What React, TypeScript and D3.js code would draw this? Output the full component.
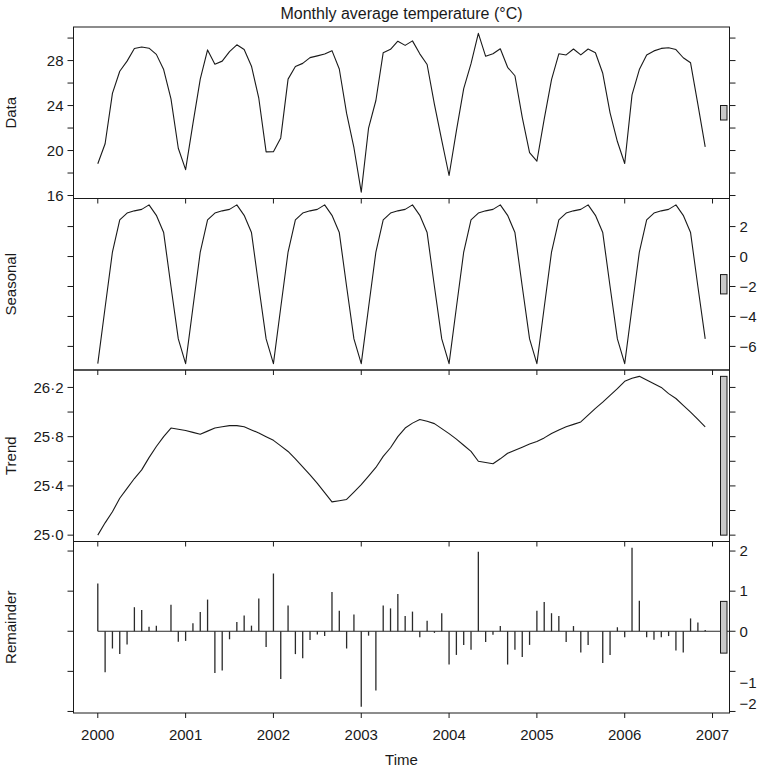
import React from "react";
import * as d3 from "d3";

// monthly series, Jan 2000 .. Dec 2006
const START_YEAR = 2000;

const dataValues = [
  18.82, 20.6, 25.08, 27.05, 27.95, 29.08, 29.21, 29.1, 28.55, 27.2, 24.6, 20.2,
  18.3, 22.4, 26.35, 28.95, 27.68, 27.95, 28.8, 29.4, 28.98, 27.5, 24.65, 19.88,
  19.9, 21.12, 26.35, 27.47, 27.75, 28.26, 28.42, 28.58, 28.88, 27.25, 23.3, 20.25,
  16.3, 22.0, 24.45, 28.7, 29.0, 29.72, 29.35, 29.75, 28.6, 27.65, 24.1, 20.9,
  17.78, 21.75, 25.5, 27.72, 30.42, 28.38, 28.6, 29.05, 27.4, 26.65, 22.95, 19.82,
  19.05, 22.8, 26.3, 28.6, 28.5, 29.03, 28.5, 29.03, 28.7, 26.87, 23.35, 20.8,
  18.85, 24.95, 27.2, 28.5, 28.86, 29.08, 29.14, 28.98, 28.25, 27.8, 24.1, 20.32,
];

// periodic seasonal component, one value per calendar month
const seasonalByMonth = [-7.15, -3.4, 0.3, 2.45, 2.9, 3.05, 3.15, 3.45, 2.75, 1.6, -2.0, -5.5];

const trendValues = [
  25.0, 25.1, 25.19, 25.3, 25.38, 25.46, 25.53, 25.63, 25.72, 25.8, 25.87, 25.86,
  25.85, 25.835, 25.82, 25.845, 25.87, 25.88, 25.89, 25.89, 25.88, 25.855, 25.83, 25.8,
  25.77, 25.725, 25.68, 25.62, 25.555, 25.49, 25.42, 25.345, 25.27, 25.28, 25.29, 25.35,
  25.41, 25.48, 25.55, 25.64, 25.71, 25.8, 25.87, 25.91, 25.94, 25.925, 25.906, 25.865,
  25.825, 25.78, 25.73, 25.68, 25.6, 25.59, 25.58, 25.62, 25.665, 25.69, 25.715, 25.74,
  25.76, 25.79, 25.825, 25.855, 25.88, 25.9, 25.92, 25.975, 26.03, 26.08, 26.135, 26.19,
  26.25, 26.275, 26.29, 26.26, 26.23, 26.2, 26.15, 26.11, 26.055, 26.0, 25.94, 25.88,
];

const remainderValues = [
  1.19, -1.02, -0.43, -0.57, -0.33, 0.6, 0.53, 0.11, 0.14, 0.0, 0.66, -0.26,
  -0.24, 0.2, 0.48, 0.79, -1.04, -0.98, -0.2, 0.23, 0.39, 0.14, 0.82, -0.39,
  1.44, -1.19, 0.64, -0.57, -0.67, -0.22, -0.08, -0.12, 0.98, 0.51, -0.43, 0.42,
  -1.88, -0.11, -1.48, 0.64, 0.57, 0.93, 0.38, 0.49, -0.15, 0.26, -0.04, 0.45,
  -0.83, -0.59, -0.34, -0.46, 1.98, -0.27, -0.09, 0.13, -0.83, -0.46, -0.64, -0.34,
  0.51, 0.73, 0.45, 0.38, -0.27, 0.13, -0.53, -0.34, 0.0, -0.79, -0.59, 0.1,
  -0.15, 2.08, 0.76, -0.15, -0.21, -0.15, -0.12, -0.48, -0.53, 0.32, 0.22, 0.03,
];

const yearTicks = [2000, 2001, 2002, 2003, 2004, 2005, 2006, 2007];
const dataTicks = [16, 18, 20, 22, 24, 26, 28, 30];
const dataLabels = [16, 20, 24, 28];
const seasonalTicks = [-6, -4, -2, 0, 2];
const trendTicks = [25.0, 25.2, 25.4, 25.6, 25.8, 26.0, 26.2];
const trendLabels = [25.0, 25.4, 25.8, 26.2];
const remainderTicks = [-2, -1, 0, 1, 2];

const W = 760;
const H = 769;
const LEFT = 73.5;
const RIGHT = 729.5;
const TOP = 27;
const BOTTOM = 713;
const FONT = "'Liberation Sans', Arial, Helvetica, sans-serif";
const INK = "#1a1a1a";

const pad = (ext: [number, number]): [number, number] => {
  const e = (ext[1] - ext[0]) * 0.04;
  return [ext[0] - e, ext[1] + e];
};

const minus = (d: number) => (d < 0 ? "\u2212" + Math.abs(d) : String(d));
const dotFmt = (d: number) => d.toFixed(1).replace(".", "\u00b7");

const App = () => {
  const months = dataValues.map((_, i) => START_YEAR + i / 12);
  const seasonalValues = months.map((_, i) => seasonalByMonth[i % 12]);

  const x = d3
    .scaleLinear()
    .domain(pad(d3.extent(months) as [number, number]))
    .range([LEFT, RIGHT]);

  const panels = [
    { name: "Data", values: dataValues, ticks: dataTicks, labels: dataLabels, side: "left", fmt: (d: number) => String(d), bars: false },
    { name: "Seasonal", values: seasonalValues, ticks: seasonalTicks, labels: seasonalTicks, side: "right", fmt: minus, bars: false },
    { name: "Trend", values: trendValues, ticks: trendTicks, labels: trendLabels, side: "left", fmt: dotFmt, bars: false },
    { name: "Remainder", values: remainderValues, ticks: remainderTicks, labels: remainderTicks, side: "right", fmt: minus, bars: true },
  ];

  const ph = (BOTTOM - TOP) / panels.length;
  // range bar: same data height in every panel (smallest range)
  const barSize = d3.min(panels, (p) => {
    const [lo, hi] = d3.extent(p.values) as [number, number];
    return hi - lo;
  }) as number;

  // the two lowest remainder labels sit a little off their ticks in the original
  const labelNudge: Record<string, number> = { "Remainder:-1": 11, "Remainder:-2": -8 };

  return (
    <svg
      width={W}
      height={H}
      style={{ position: "absolute", left: 0, top: 0, background: "#fff" }}
      fontFamily={FONT}
    >
      <text x={(LEFT + RIGHT) / 2} y={19} textAnchor="middle" fontSize={16} fill={INK}>
        Monthly average temperature (°C)
      </text>

      {panels.map((p, pi) => {
        const top = TOP + pi * ph;
        const bottom = top + ph;
        const ext = d3.extent(p.values) as [number, number];
        const y = d3.scaleLinear().domain(pad(ext)).range([bottom, top]);
        const line = d3
          .line<number>()
          .x((_, i) => x(months[i]))
          .y((d) => y(d));
        const mid = (ext[0] + ext[1]) / 2;
        const last = pi === panels.length - 1;

        return (
          <g key={p.name}>
            {p.bars ? (
              <g stroke="#2a2a2a" strokeWidth={1.3}>
                <line x1={x(START_YEAR)} x2={RIGHT} y1={y(0)} y2={y(0)} strokeWidth={1} />
                {p.values.map((v, i) => (
                  <line key={i} x1={x(months[i])} x2={x(months[i])} y1={y(0)} y2={y(v)} />
                ))}
              </g>
            ) : (
              <path d={line(p.values) || ""} fill="none" stroke={INK} strokeWidth={1.1} strokeLinejoin="round" />
            )}

            <rect x={LEFT} y={top} width={RIGHT - LEFT} height={ph} fill="none" stroke={INK} strokeWidth={1} />

            {/* range bar */}
            <rect
              x={720.5}
              y={y(mid + barSize / 2)}
              width={6.5}
              height={y(mid - barSize / 2) - y(mid + barSize / 2)}
              fill="#c8c8c8"
              stroke={INK}
              strokeWidth={1}
            />

            {/* y ticks on both sides */}
            {p.ticks.map((t) => (
              <g key={t} stroke={INK} strokeWidth={1}>
                <line x1={LEFT - 6} x2={LEFT} y1={y(t)} y2={y(t)} />
                <line x1={RIGHT} x2={RIGHT + 6} y1={y(t)} y2={y(t)} />
              </g>
            ))}
            {p.labels.map((t) => (
              <text
                key={t}
                x={p.side === "left" ? LEFT - 10 : RIGHT + 10}
                y={y(t) + (labelNudge[p.name + ":" + t] || 0)}
                dy="0.35em"
                textAnchor={p.side === "left" ? "end" : "start"}
                fontSize={15}
                fill={INK}
              >
                {p.fmt(t)}
              </text>
            ))}

            {/* year ticks below each panel */}
            {yearTicks.map((yr) => (
              <line key={yr} x1={x(yr)} x2={x(yr)} y1={bottom} y2={bottom + 5} stroke={INK} strokeWidth={1} />
            ))}
            {last &&
              yearTicks.map((yr) => (
                <text key={yr} x={x(yr)} y={740} textAnchor="middle" fontSize={15} fill={INK}>
                  {yr}
                </text>
              ))}

            <text
              transform={`translate(16,${(top + bottom) / 2}) rotate(-90)`}
              textAnchor="middle"
              fontSize={15}
              fill={INK}
            >
              {p.name}
            </text>
          </g>
        );
      })}

      <text x={(LEFT + RIGHT) / 2} y={765} textAnchor="middle" fontSize={15} fill={INK}>
        Time
      </text>
    </svg>
  );
};

export default App;
